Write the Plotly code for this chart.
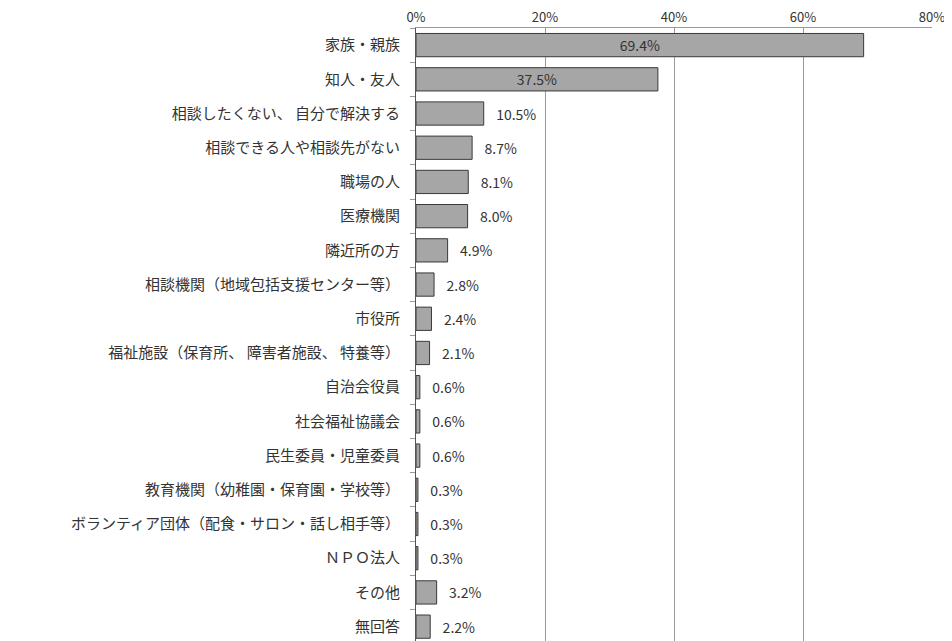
import plotly.graph_objects as go

categories = [
    "家族・親族",
    "知人・友人",
    "相談したくない、 自分で解決する",
    "相談できる人や相談先がない",
    "職場の人",
    "医療機関",
    "隣近所の方",
    "相談機関（地域包括支援センター等）",
    "市役所",
    "福祉施設（保育所、 障害者施設、 特養等）",
    "自治会役員",
    "社会福祉協議会",
    "民生委員・児童委員",
    "教育機関（幼稚園・保育園・学校等）",
    "ボランティア団体（配食・サロン・話し相手等）",
    "ＮＰＯ法人",
    "その他",
    "無回答",
]
values = [69.4, 37.5, 10.5, 8.7, 8.1, 8.0, 4.9, 2.8, 2.4, 2.1,
          0.6, 0.6, 0.6, 0.3, 0.3, 0.3, 3.2, 2.2]
tick_vals = [0, 20, 40, 60, 80]
tick_text = ["0%", "20%", "40%", "60%", "80%"]

inside_count = 2
texts = [f"{v:.1f}%" if i < inside_count else f"   {v:.1f}%" for i, v in enumerate(values)]
positions = ["inside" if i < inside_count else "outside" for i in range(len(values))]

FONT = "Noto Sans CJK JP, Noto Sans, sans-serif"

fig = go.Figure(go.Bar(
    x=values,
    y=categories,
    orientation="h",
    width=0.68,
    marker=dict(color="#a6a6a6", line=dict(color="#3a3a3a", width=1)),
    text=texts,
    textposition=positions,
    insidetextanchor="middle",
    textangle=0,
    cliponaxis=False,
    textfont=dict(family=FONT, size=14, color="#333333"),
    constraintext="none",
))

# page body has an 8px default margin, so the figure is 944x633 offset by 8px
fig.update_layout(
    width=944, height=633,
    margin=dict(l=408, r=20, t=20, b=0, autoexpand=False),
    paper_bgcolor="white",
    plot_bgcolor="white",
    showlegend=False,
    font=dict(family=FONT, size=14, color="#333333"),
)
fig.update_xaxes(
    side="top",
    range=[0, 80],
    tickvals=tick_vals,
    ticktext=tick_text,
    showgrid=True,
    gridcolor="#9a9a9a",
    gridwidth=1,
    showline=True,
    linecolor="#9a9a9a",
    linewidth=1,
    ticks="inside",
    ticklen=5,
    tickcolor="#9a9a9a",
    zeroline=False,
    automargin=False,
    ticklabelstandoff=0,
    tickfont=dict(family=FONT, size=13, color="#333333"),
)
fig.update_yaxes(
    categoryorder="array",
    categoryarray=categories,
    range=[17.42, -0.5],
    showline=True,
    linecolor="#555555",
    linewidth=1,
    ticks="outside",
    tickson="boundaries",
    ticklen=5,
    tickcolor="#9a9a9a",
    ticklabelstandoff=12,
    showgrid=False,
    automargin=False,
    tickfont=dict(family=FONT, size=15, color="#333333"),
)

fig.write_html("out.html")
